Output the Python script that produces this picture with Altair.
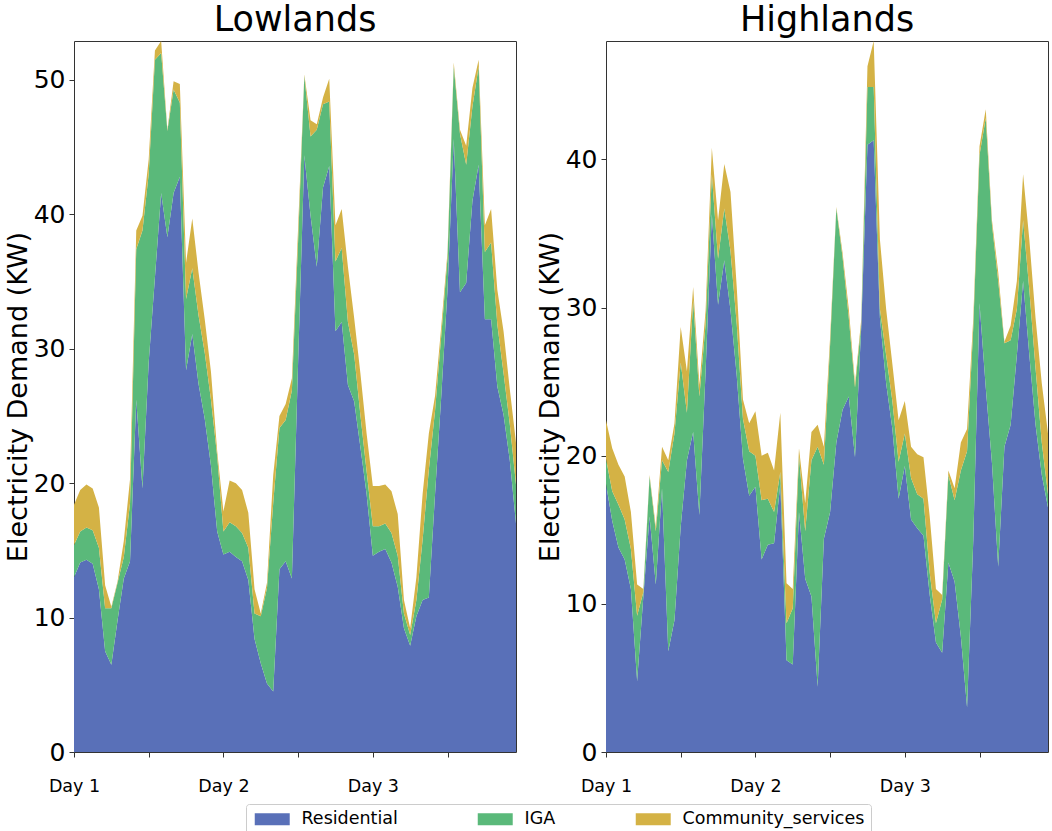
import altair as alt
import pandas as pd

hours = list(range(72))
categories = ["Residential", "IGA", "Community_services"]
colors = ["#5970b8", "#5ab97a", "#d4b245"]

low_res = [13.0, 14.1, 14.3, 14.0, 12.1, 7.5, 6.5, 9.8, 12.9, 14.2, 26.2, 19.6,
           29.0, 35.3, 41.6, 38.3, 41.6, 42.8, 28.4, 31.1, 27.4, 24.8, 21.3, 16.4,
           14.7, 14.9, 14.5, 14.2, 12.8, 8.4, 6.6, 5.1, 4.5, 13.6, 14.2, 12.9,
           29.0, 44.4, 39.9, 36.1, 42.0, 43.6, 31.3, 32.0, 27.3, 26.1, 22.7, 19.2,
           14.6, 14.9, 15.1, 14.1, 12.3, 9.2, 7.9, 10.1, 11.3, 11.5, 19.2, 26.5,
           34.4, 45.6, 34.2, 34.9, 41.0, 43.7, 32.2, 32.2, 27.2, 25.1, 21.7, 17.0]
low_iga = [2.4, 2.3, 2.4, 2.5, 3.1, 3.2, 4.2, 2.8, 1.6, 4.3, 11.2, 19.2,
           14.0, 16.2, 10.4, 7.9, 7.7, 5.5, 5.3, 4.9, 5.1, 4.9, 4.9, 5.6,
           1.7, 2.2, 2.3, 2.1, 2.4, 1.9, 3.5, 7.1, 14.0, 10.5, 10.5, 14.0,
           9.0, 5.9, 5.9, 10.2, 6.2, 4.8, 5.2, 5.5, 4.7, 3.5, 2.4, 1.7,
           2.2, 1.9, 1.9, 2.2, 2.3, 1.1, 0.8, 1.2, 4.5, 9.5, 6.2, 4.5,
           2.4, 5.4, 11.8, 8.8, 7.0, 7.3, 5.0, 5.7, 4.6, 3.1, 2.7, 2.9]
low_com = [3.0, 3.1, 3.2, 3.1, 3.0, 1.7, 0.1, 0.1, 1.2, 1.8, 1.4, 1.1,
           1.1, 0.7, 0.9, 0.1, 0.6, 1.4, 2.7, 3.7, 3.2, 2.5, 2.1, 0.4,
           1.5, 3.1, 3.2, 3.2, 2.6, 1.8, 0.2, 0.4, 2.1, 0.9, 1.2, 0.9,
           1.0, 0.1, 1.2, 0.4, 0.5, 1.7, 2.7, 2.9, 4.1, 2.7, 3.1, 2.8,
           3.0, 3.0, 2.9, 3.1, 3.1, 1.0, 0.5, 1.7, 3.4, 2.7, 1.1, 0.7,
           0.4, 0.3, 0.3, 1.4, 1.4, 0.5, 2.0, 2.5, 2.6, 3.1, 2.6, 3.1]

high_res = [18.1, 15.6, 13.8, 13.0, 11.0, 4.8, 10.5, 15.9, 11.3, 17.8, 6.8, 8.9,
            15.2, 19.7, 21.6, 16.0, 25.7, 36.3, 30.2, 33.2, 29.8, 25.4, 19.8, 17.3,
            17.9, 13.0, 14.0, 14.1, 18.1, 6.2, 5.9, 16.2, 11.7, 10.5, 4.4, 14.4,
            16.2, 20.9, 23.1, 24.0, 19.9, 28.7, 41.0, 41.3, 29.3, 24.9, 21.8, 17.1,
            19.3, 15.7, 15.1, 14.6, 10.6, 7.4, 6.7, 12.8, 11.5, 7.8, 3.0, 14.3,
            30.3, 24.6, 19.5, 12.5, 20.6, 22.1, 26.8, 31.8, 26.8, 22.1, 18.7, 16.5]
high_iga = [1.7, 2.0, 2.9, 2.7, 2.7, 4.4, 0.3, 2.7, 3.6, 1.9, 12.1, 12.6,
            11.1, 3.2, 8.9, 8.0, 3.2, 2.7, 3.1, 3.5, 4.0, 3.5, 2.7, 3.0,
            2.1, 4.0, 3.1, 2.1, 0.8, 2.5, 3.8, 3.8, 3.2, 9.2, 16.2, 5.0,
            11.3, 15.8, 10.3, 5.3, 4.7, 0.2, 3.9, 3.6, 0.6, 1.9, 1.9, 2.5,
            2.2, 2.8, 2.3, 2.5, 1.5, 1.3, 3.6, 5.9, 5.5, 11.2, 17.3, 14.4,
            10.0, 18.2, 16.1, 19.3, 7.0, 5.7, 3.1, 4.1, 4.4, 3.8, 2.2, 0.9]
high_com = [2.6, 2.9, 2.7, 2.9, 2.5, 2.1, 0.2, 0.1, 0.3, 0.9, 0.8, 0.7,
            2.4, 2.8, 0.9, 0.8, 0.9, 1.8, 2.6, 3.0, 4.0, 2.5, 1.3, 1.9,
            3.0, 3.0, 3.1, 2.8, 4.0, 2.7, 1.3, 0.5, 1.9, 1.9, 1.5, 1.2,
            0.5, 0.1, 0.3, 0.6, 0.3, 0.3, 1.4, 3.1, 4.7, 3.1, 2.5, 2.8,
            2.2, 2.1, 2.7, 2.8, 3.8, 2.3, 0.3, 0.3, 0.8, 1.9, 1.5, 0.6,
            0.6, 0.6, 0.3, 0.6, 0.1, 1.0, 1.9, 3.1, 3.4, 3.4, 4.0, 4.1]

low_ymax = 52.9
high_ymax = 48.0
low_yticks = [0, 10, 20, 30, 40, 50]
high_yticks = [0, 10, 20, 30, 40]
x_ticks = [0, 12, 24, 36, 48, 60]

FONT = "DejaVu Sans"


def make_df(series):
    rows = []
    for order, (cat, vals) in enumerate(zip(categories, series)):
        for h, v in zip(hours, vals):
            rows.append({"hour": h, "value": v, "category": cat, "order": order})
    return pd.DataFrame(rows)


df_low = make_df([low_res, low_iga, low_com])
df_high = make_df([high_res, high_iga, high_com])

legend = alt.Legend(
    title=None,
    orient="none",
    legendX=172,
    legendY=763,
    direction="horizontal",
    symbolType="M-1,-1L4.83,-1L4.83,1L-1,1Z",
    symbolSize=144,
    symbolStrokeWidth=0,
    symbolOpacity=1,
    labelFontSize=17.5,
    labelFont=FONT,
    labelColor="black",
    labelOffset=32,
    labelLimit=400,
    columnPadding=77,
    padding=6,
    strokeColor="#cccccc",
    fillColor="white",
    cornerRadius=3,
)


def panel(df, ymax, yticks, title):
    return alt.Chart(df).mark_area(interpolate="linear", clip=True).encode(
        x=alt.X(
            "hour:Q",
            scale=alt.Scale(domain=[0, 71], nice=False, zero=False),
            axis=alt.Axis(
                values=x_ticks,
                labelExpr="datum.value == 0 ? 'Day 1' : datum.value == 24 ? 'Day 2' : datum.value == 48 ? 'Day 3' : ''",
                title=None,
                grid=False,
                domain=False,
                labelFlush=False,
                labelFont=FONT,
                labelFontSize=17.5,
                labelPadding=20,
                labelAngle=0,
                labelColor="black",
                tickColor="#333333",
                tickSize=5,
            ),
        ),
        y=alt.Y(
            "value:Q",
            stack="zero",
            scale=alt.Scale(domain=[0, ymax], nice=False),
            axis=alt.Axis(
                values=yticks,
                title="Electricity Demand (KW)",
                grid=False,
                domain=False,
                labelFlush=False,
                labelFont=FONT,
                labelFontSize=25,
                labelPadding=4,
                labelColor="black",
                tickColor="#333333",
                tickSize=5,
                titleFontSize=27,
                titlePadding=1,
                titleFontWeight="normal",
                titleColor="black",
                titleFont=FONT,
            ),
        ),
        color=alt.Color(
            "category:N",
            scale=alt.Scale(domain=categories, range=colors),
            legend=legend,
        ),
        order=alt.Order("order:Q"),
    ).properties(
        width=442,
        height=711,
        title=alt.TitleParams(
            title,
            fontSize=35,
            font=FONT,
            fontWeight="normal",
            color="black",
            baseline="alphabetic",
            offset=-25,
            anchor="middle",
        ),
    )


left = panel(df_low, low_ymax, low_yticks, "Lowlands")
right = panel(df_high, high_ymax, high_yticks, "Highlands")

chart = alt.hconcat(left, right, spacing=90, bounds="flush").properties(
    padding={"left": 3, "top": 2, "right": 0, "bottom": 0}
).configure(
    background="white",
    font=FONT,
).configure_view(
    stroke="#333333",
    strokeWidth=1,
)

chart.save("out.html", embed_options={"renderer": "svg", "actions": False})
